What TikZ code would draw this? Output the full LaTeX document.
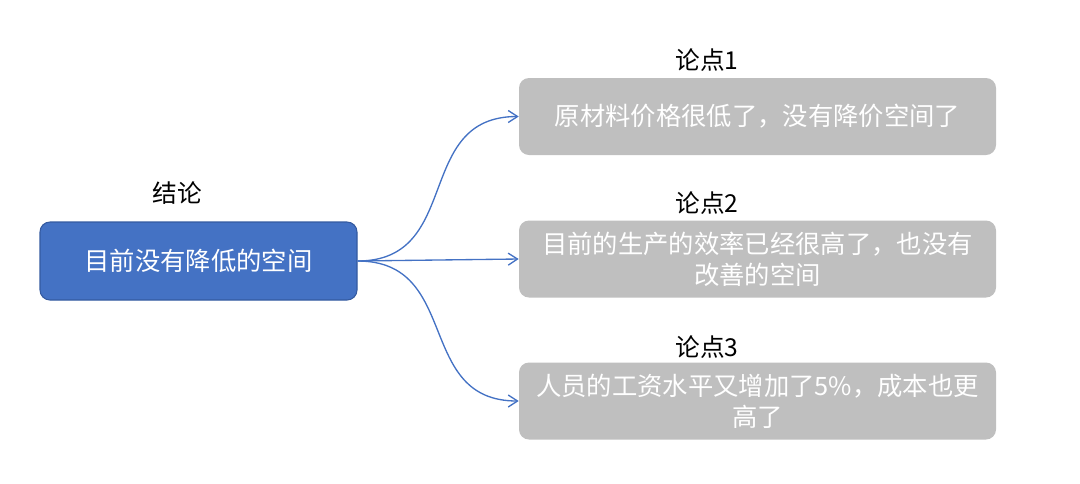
\documentclass[tikz,border=0pt]{standalone}
\usepackage{fontspec}
\setmainfont{Noto Sans CJK SC}
\usetikzlibrary{arrows.meta}

\definecolor{rootblue}{RGB}{68,114,196}
\definecolor{rootedge}{RGB}{52,90,160}
\definecolor{pointgrey}{RGB}{191,191,191}

\tikzset{
  rootbox/.style={draw=rootedge, line width=0.8pt, fill=rootblue, rounded corners=7.5pt,
    minimum width=237.75pt, minimum height=58.5pt, text=white, font=\fontsize{19}{23}\selectfont},
  pointbox/.style={fill=pointgrey, rounded corners=7.5pt, minimum width=357.75pt,
    minimum height=57.75pt, text=white, align=center, inner sep=2pt,
    font=\fontsize{19}{23.25}\selectfont},
  tag/.style={text=black, inner sep=0.75pt, font=\fontsize{18.5}{22}\selectfont},
  branch/.style={draw=rootblue, line width=1pt, -{Straight Barb[length=7pt,width=9pt]}}
}

\begin{document}
\begin{tikzpicture}[x=0.75pt,y=0.75pt,yscale=-1]
\useasboundingbox (0,0) rectangle (1080,483);

% Conclusion
\node [rootbox] (root) at (198.5,261) {目前没有降低的空间};
\node [tag] (rootTag) at (177,193) {结论};

% Points
\node [pointbox] (p1) at (757.5,116.5) {原材料价格很低了，没有降价空间了};
\node [pointbox] (p2) at (757.5,259) {目前的生产的效率已经很高了，也没有\\改善的空间};
\node [pointbox] (p3) at (757.5,401) {人员的工资水平又增加了5\%，成本也更\\高了};

% Text Node
\node [tag] (p1Tag) at (707,60) {论点1};
\node [tag] (p2Tag) at (707,203) {论点2};
\node [tag] (p3Tag) at (707,347) {论点3};

% Branches
\draw [branch] (root.east) to[out=0,in=180,looseness=1.25] (p1.west);
\draw [branch] (root.east) -- (p2.west);
\draw [branch] (root.east) to[out=0,in=180,looseness=1.25] (p3.west);
\end{tikzpicture}
\end{document}
